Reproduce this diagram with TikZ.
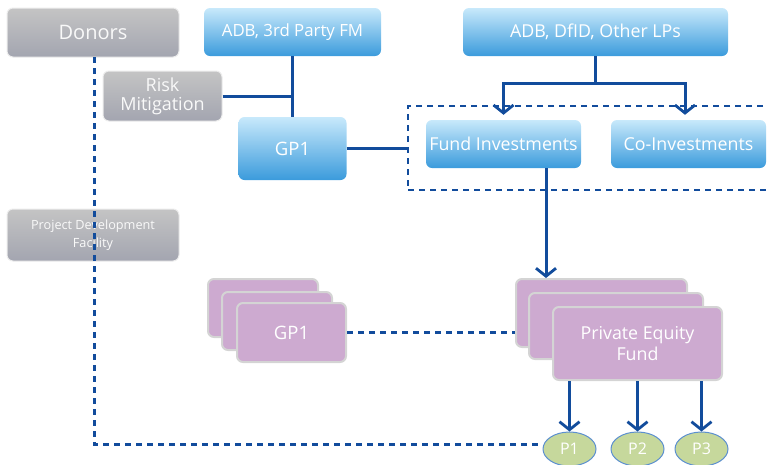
\documentclass[tikz,border=0pt]{standalone}
\usepackage{fontspec}
\setmainfont{Open Sans}
\usetikzlibrary{arrows.meta,shapes.geometric,calc}
\definecolor{linecol}{HTML}{124C9C}
\definecolor{bluetop}{HTML}{C8E9FB}
\definecolor{bluebot}{HTML}{3B9BDC}
\definecolor{graytop}{HTML}{C4C4C4}
\definecolor{graybot}{HTML}{A3A5B0}
\definecolor{plum}{HTML}{CDAAD0}
\definecolor{plumedge}{HTML}{D4D4D4}
\definecolor{pgreen}{HTML}{C6D89C}
\definecolor{pedge}{HTML}{5B8FD0}
\tikzset{
  bluebox/.style={rounded corners=6pt, top color=bluetop, bottom color=bluebot, draw=none,
    text=white, align=center, inner sep=0pt, font=\fontsize{17.8}{20}\selectfont},
  graybox/.style={rounded corners=6pt, top color=graytop, bottom color=graybot, draw=white!85!gray, line width=1pt,
    text=white!95!gray, align=center, inner sep=0pt, font=\fontsize{17}{20}\selectfont},
  plumbox/.style={rounded corners=6pt, fill=plum, draw=plumedge, line width=2pt,
    text=white, align=center, inner sep=0pt, font=\fontsize{17}{20}\selectfont},
  pbubble/.style={ellipse, fill=pgreen, draw=pedge, line width=1pt, text=white, inner sep=0pt,
    minimum width=53pt, minimum height=34pt, font=\fontsize{16}{18}\selectfont},
  solidline/.style={draw=linecol, line width=3pt},
  arrowline/.style={solidline, -{Straight Barb[length=8pt,width=20pt,line width=2.8pt]}},
  dashline/.style={draw=linecol, line width=2.8pt, dash pattern=on 6pt off 5pt},
  dotline/.style={draw=linecol, line width=3pt, dash pattern=on 6pt off 5pt},
}
\begin{document}
\begin{tikzpicture}[x=1pt,y=-1pt]
\useasboundingbox (0,0) rectangle (768,464);
% top row
\node[graybox, minimum width=172pt, minimum height=49pt, font=\fontsize{20}{24}\selectfont] (donors) at (93,32.5) {Donors};
\node[bluebox, minimum width=177pt, minimum height=48pt, font=\fontsize{16.8}{20}\selectfont] (adb3) at (292.5,32) {ADB, 3rd Party FM};
\node[bluebox, minimum width=265pt, minimum height=48pt] (lps) at (595.5,32) {ADB, DfID, Other LPs};
\node[graybox, minimum width=119pt, minimum height=50pt, font=\fontsize{18}{19}\selectfont] (risk) at (162.5,96) {Risk\\Mitigation};
\node[bluebox, minimum width=108pt, minimum height=63pt, font=\fontsize{18.5}{20}\selectfont] (gpone) at (292.5,148.5) {GP1};
% investment box
\node[dashline, minimum width=372pt, minimum height=84pt, inner sep=0pt] (invbox) at (594,148) {};
\node[bluebox, minimum width=155pt, minimum height=48pt] (fund) at (503.5,144) {Fund Investments};
\node[bluebox, minimum width=155pt, minimum height=48pt] (coinv) at (688.5,144) {Co-Investments};
% project development facility
\node[graybox, minimum width=172pt, minimum height=52pt, font=\fontsize{12.7}{18}\selectfont] (pdf) at (93,235) {Project Development\\Facility};
% GP stack
\node[plumbox, minimum width=110pt, minimum height=58pt] (gpback) at (263,308) {};
\node[plumbox, minimum width=110pt, minimum height=58pt] (gpmid) at (277,321) {};
\node[plumbox, minimum width=109pt, minimum height=59pt, font=\fontsize{18.5}{20}\selectfont] (gpfront) at (291.5,332.5) {GP1};
% PE stack
\node[plumbox, minimum width=171pt, minimum height=68pt] (peback) at (601.5,313) {};
\node[plumbox, minimum width=174pt, minimum height=66pt] (pemid) at (616,326) {};
\node[plumbox, minimum width=169pt, minimum height=73pt, font=\fontsize{17.8}{21}\selectfont] (pefront) at (637.5,343.5) {Private Equity\\Fund};
% portfolio companies
\node[pbubble] (p1) at (569.5,449) {P1};
\node[pbubble] (p2) at (637.5,449) {P2};
\node[pbubble] (p3) at (701.5,449) {P3};
% connectors
\draw[solidline] (adb3.south) -- (gpone.north);
\draw[solidline] (risk.east) -- (risk.east -| adb3.south);
\draw[solidline] (gpone.east) -- (gpone.east -| invbox.west);
\coordinate (split) at ($(lps.south)+(0,27)$);
\draw[solidline] (lps.south) -- (split);
\draw[arrowline] (split) -| ([yshift=5pt]fund.north);
\draw[arrowline] (split) -| ([xshift=-3.5pt,yshift=5pt]coinv.north);
\draw[arrowline] ([xshift=42.5pt]fund.south) -- ([xshift=42.5pt]fund.south |- peback.north);
\draw[dashline] (gpfront.east) -- (gpfront.east -| peback.west);
\foreach \p in {p1,p2,p3}{
  \draw[arrowline] (\p.north |- pefront.south) -- (\p.north);
}
\coordinate (dcorner) at (94,444);
\draw[dotline] (94,57) -- (dcorner) -- (dcorner -| p1.west);
\end{tikzpicture}
\end{document}
